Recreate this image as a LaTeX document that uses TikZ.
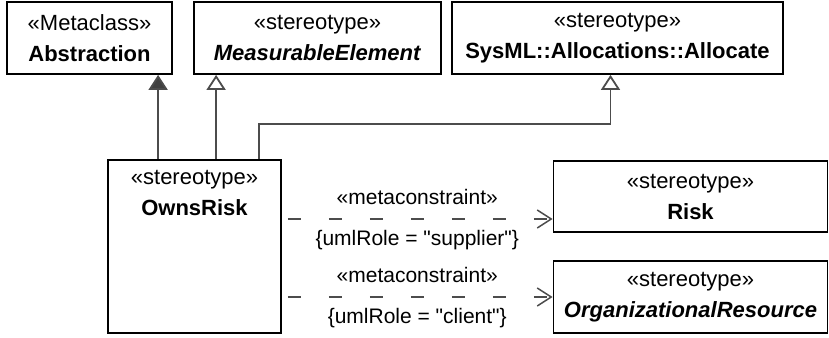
\documentclass[tikz,border=0pt]{standalone}
\usepackage{fontspec}
\setmainfont{Liberation Sans}
\newfontfamily\cstrfont{Liberation Sans}
\usetikzlibrary{arrows.meta, calc}

\begin{document}
\begin{tikzpicture}[x=1pt, y=-1pt,
  classbox/.style={draw, line width=1.8pt, inner sep=0pt, align=center, font=\fontsize{22}{31}\selectfont},
  classlbl/.style={inner sep=0pt, align=center, font=\fontsize{22}{31}\selectfont},
  gen/.style={draw=black!70, line width=1.8pt, -{Triangle[open, length=15pt, width=19pt, fill=white]}},
  ext/.style={draw=black!70, line width=1.8pt, -{Triangle[length=15pt, width=19pt, fill=black!75]}},
  metadep/.style={draw=black!70, line width=1.5pt, dash pattern=on 13pt off 28pt, dash phase=35pt, -{Straight Barb[length=14pt, width=18pt]}},
  cstr/.style={inner sep=0pt, font=\cstrfont\fontsize{21}{25}\selectfont}]
  \useasboundingbox (0,0) rectangle (829,337);
  % metaclass and stereotypes on top
  \node[classbox, minimum width=165pt, minimum height=72pt] (abstraction) at (89.5,38) {«Metaclass»\\\textbf{Abstraction}};
  \node[classbox, minimum width=247pt, minimum height=72pt] (measurable) at (317.5,38) {«stereotype»\\\textbf{\textit{MeasurableElement}}};
  \node[classbox, minimum width=331pt, minimum height=72pt] (allocate) at (617.5,38) {«stereotype»\\\textbf{SysML::Allocations::Allocate}};
  % the stereotype itself
  \node[classbox, minimum width=173pt, minimum height=173pt] (ownsrisk) at (194.5,246.5) {};
  \node[classlbl, anchor=north] (ownsrisklbl) at ([yshift=-11pt]ownsrisk.north) {«stereotype»\\\textbf{OwnsRisk}};
  \node[classbox, minimum width=274pt, minimum height=71pt] (risk) at (690.5,196.5) {«stereotype»\\\textbf{Risk}};
  \node[classbox, minimum width=274pt, minimum height=72pt] (orgres) at (690.5,297) {«stereotype»\\\textbf{\textit{OrganizationalResource}}};
  % extension and generalizations
  \coordinate (extA) at ([xshift=51pt]ownsrisk.north west);
  \coordinate (genB) at ([xshift=109pt]ownsrisk.north west);
  \coordinate (genC) at ([xshift=152pt]ownsrisk.north west);
  \coordinate (allocTip) at ([xshift=-7pt]allocate.south);
  \draw[ext] (extA) -- (extA |- abstraction.south);
  \draw[gen] (genB) -- (genB |- measurable.south);
  \draw[gen] (genC) -- ++(0,-35) -| (allocTip);
  % metaconstraints
  \draw[metadep] (ownsrisk.east |- risk.west) ++(0,22.5) coordinate (mcA) -- (mcA -| risk.west)
    node[cstr, midway, above=14pt] (mcAtop) {«metaconstraint»}
    node[cstr, midway, below=11pt] (mcAbot) {\{umlRole = "supplier"\}};
  \draw[metadep] (ownsrisk.east |- orgres.west) coordinate (mcB) -- (orgres.west)
    node[cstr, midway, above=14pt] (mcBtop) {«metaconstraint»}
    node[cstr, midway, below=11pt] (mcBbot) {\{umlRole = "client"\}};
\end{tikzpicture}
\end{document}
